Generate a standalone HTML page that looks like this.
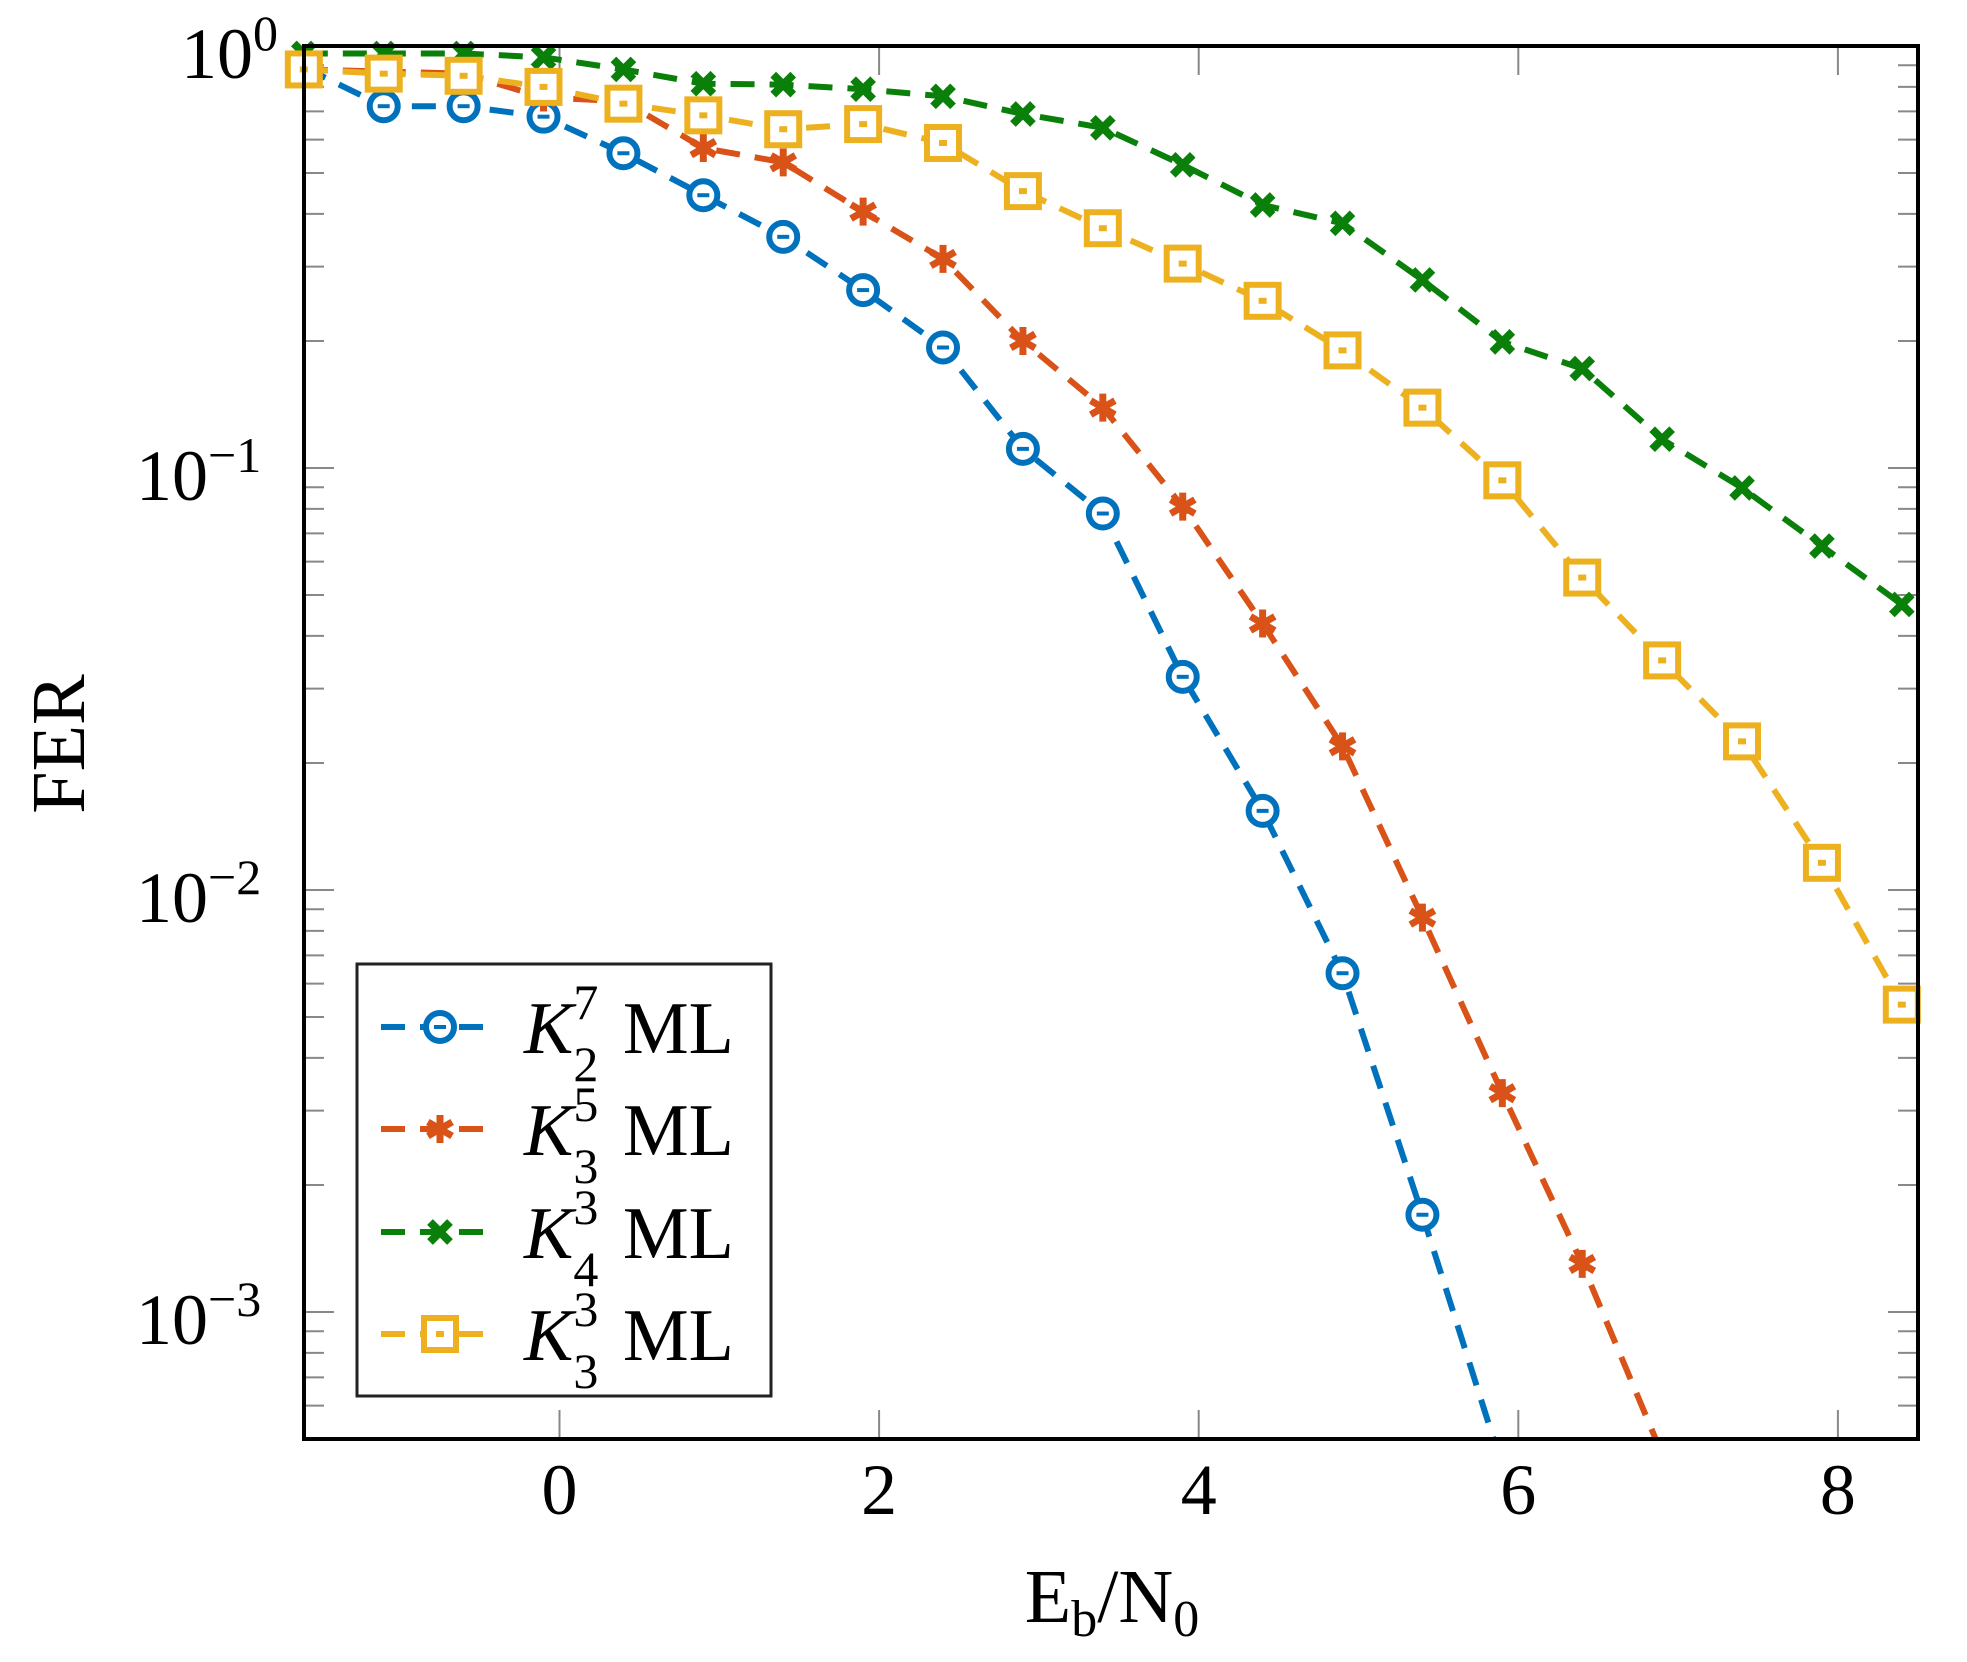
<!DOCTYPE html>
<html><head><meta charset="utf-8">
<style>
html,body{margin:0;padding:0;background:#fff;}
svg{display:block;}
text{font-family:"Liberation Serif",serif;fill:#000;}
</style></head>
<body>
<svg id="s" width="1967" height="1662" viewBox="0 0 1967 1662" xmlns="http://www.w3.org/2000/svg">
<defs><clipPath id="cp"><rect x="304" y="46" width="1614" height="1393"/></clipPath></defs>
<g id="ticks"></g>
<g id="series" clip-path="url(#cp)"></g>
<g id="marks"></g>
<rect x="304" y="46" width="1614" height="1393" fill="none" stroke="#000" stroke-width="4"/>
<g font-size="72" id="tl">
<text x="181" y="78">10</text><text x="253" y="50" font-size="50">0</text>
<text x="136" y="500">10</text><text x="208" y="472" font-size="50">−1</text>
<text x="136" y="922">10</text><text x="208" y="894" font-size="50">−2</text>
<text x="136" y="1344">10</text><text x="208" y="1316" font-size="50">−3</text>
</g>
<text x="1112" y="1622" font-size="76" text-anchor="middle" fill="#222">E<tspan font-size="52" dy="14">b</tspan><tspan dy="-14">/N</tspan><tspan font-size="52" dy="14">0</tspan></text>
<text transform="translate(84,744) rotate(-90)" font-size="76" text-anchor="middle" fill="#222">FER</text>
<rect x="357" y="964" width="414" height="432" fill="#fff" stroke="#222" stroke-width="3"/>
<g id="legend"></g>
</svg>
<script>
var NS="http://www.w3.org/2000/svg";
function X(v){return 559.5+v*159.8;}
function Y(v){return 46-Math.log10(v)*422;}
function el(p,t,a){var e=document.createElementNS(NS,t);for(var k in a)e.setAttribute(k,a[k]);p.appendChild(e);return e;}
var tg=document.getElementById('ticks');
for(var d=0;d>=-4;d--){for(var m=1;m<=9;m++){var v=m*Math.pow(10,d);var y=Y(v);if(y<46||y>1439)continue;var L=(m==1)?30:20;
el(tg,'line',{x1:304,x2:304+L,y1:y,y2:y,stroke:'#888','stroke-width':2});
el(tg,'line',{x1:1918,x2:1918-L,y1:y,y2:y,stroke:'#888','stroke-width':2});}}
var tl=document.getElementById('tl');
[0,2,4,6,8].forEach(function(t){var x=X(t);el(tg,'line',{x1:x,x2:x,y1:1439,y2:1410,stroke:'#888','stroke-width':2});el(tg,'line',{x1:x,x2:x,y1:46,y2:75,stroke:'#888','stroke-width':2});
 var e=el(tl,'text',{x:x,y:1514,'text-anchor':'middle'});e.textContent=String(t);});
var xs=[];for(var i=0;i<21;i++)xs.push(-1.6+0.5*i);
var S=[
{c:'#0072BD',m:'o',y:[0.89,0.72,0.72,0.68,0.557,0.443,0.353,0.264,0.193,0.111,0.078,0.032,0.0154,0.00635,0.0017,0.00043]},
{c:'#D95319',m:'*',y:[0.88,0.87,0.86,0.755,0.74,0.573,0.53,0.405,0.313,0.2,0.139,0.081,0.0428,0.0219,0.0086,0.0033,0.0013,0.00046]},
{c:'#0A800A',m:'x',y:[0.96,0.96,0.96,0.94,0.88,0.814,0.81,0.79,0.76,0.69,0.64,0.523,0.42,0.38,0.279,0.199,0.172,0.117,0.0897,0.0653,0.0475]},
{c:'#EDB120',m:'s',y:[0.88,0.86,0.85,0.80,0.73,0.685,0.635,0.653,0.589,0.453,0.37,0.305,0.249,0.19,0.139,0.0935,0.055,0.035,0.0225,0.0116,0.00535]}
];
var sg=document.getElementById('series'),mg=document.getElementById('marks'),lg=document.getElementById('legend');
function marker(g,m,c,x,y){
 if(m=='o'){el(g,'circle',{cx:x,cy:y,r:14,fill:'#fff',stroke:c,'stroke-width':6});el(g,'line',{x1:x-6,x2:x+6,y1:y,y2:y,stroke:c,'stroke-width':4});}
 else if(m=='s'){el(g,'rect',{x:x-16,y:y-16,width:32,height:32,fill:'#fff',stroke:c,'stroke-width':6});el(g,'rect',{x:x-4,y:y-3,width:8,height:6,fill:c});}
 else if(m=='x'){el(g,'path',{d:'M'+(x-10)+' '+(y-10)+'L'+(x+10)+' '+(y+10)+'M'+(x+10)+' '+(y-10)+'L'+(x-10)+' '+(y+10),stroke:c,'stroke-width':8});}
 else {var d='';for(var a=0;a<3;a++){var t=Math.PI/2+a*Math.PI/3;var dx=14*Math.cos(t),dy=14*Math.sin(t);d+='M'+(x-dx)+' '+(y-dy)+'L'+(x+dx)+' '+(y+dy);}el(g,'path',{d:d,stroke:c,'stroke-width':7});}
}
S.forEach(function(s){
 var pts=s.y.map(function(v,i){return X(xs[i])+','+Y(v);}).join(' ');
 el(sg,'polyline',{points:pts,fill:'none',stroke:s.c,'stroke-width':6,'stroke-dasharray':'24 15'});
});
S.forEach(function(s){s.y.forEach(function(v,i){var y=Y(v);if(y<=1445)marker(mg,s.m,s.c,X(xs[i]),y);});});
var labs=[['7','2'],['5','3'],['3','4'],['3','3']];
var ly=[1027,1129,1232,1334];
S.forEach(function(s,i){var y=ly[i];
 el(lg,'line',{x1:381,x2:487,y1:y,y2:y,stroke:s.c,'stroke-width':6,'stroke-dasharray':'24 15'});
 marker(lg,s.m,s.c,440,y);
 var t=el(lg,'text',{x:524,y:y+26,'font-size':74,fill:'#222'});
 t.innerHTML='<tspan font-style="italic">K</tspan><tspan font-size="50" dy="-34">'+labs[i][0]+'</tspan><tspan font-size="50" dx="-25" dy="62">'+labs[i][1]+'</tspan><tspan dy="-28" dx="6"> ML</tspan>';
});
</script>
</body></html>
